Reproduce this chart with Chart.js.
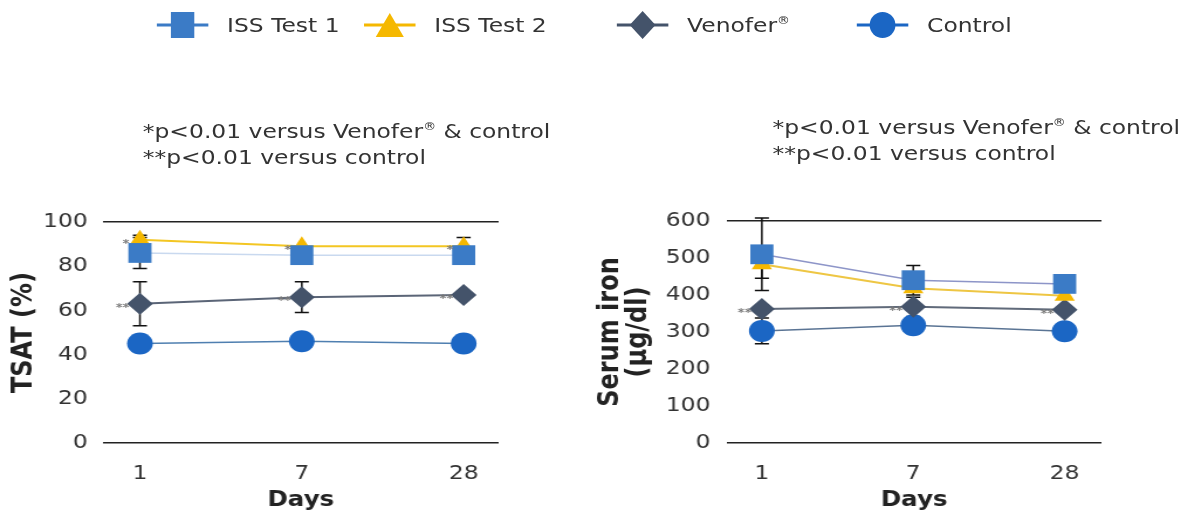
<!DOCTYPE html>
<html>
<head>
<meta charset="utf-8">
<script src="https://cdn.jsdelivr.net/npm/chart.js@4.4.1/dist/chart.umd.min.js"></script>
<style>
  body { margin: 0; background: #fff; overflow: hidden; }
  #stage { position: absolute; left: 0; top: 0; width: 1026px; height: 517px;
           transform: scaleX(1.1705); transform-origin: 0 0; }
  #stage canvas { position: absolute; }
  .note, .legtext { position: absolute; font-family: "DejaVu Sans", Verdana, sans-serif;
                    font-size: 20px; color: #333; white-space: nowrap; }
  .note { line-height: 26px; }
  .legtext { line-height: 24px; top: 13px; }
  sup { font-size: 0.55em; vertical-align: 0.7em; line-height: 0; }
  .legsvg { position: absolute; top: 8px; }
</style>
</head>
<body>
<div id="stage">
  <div class="note" style="left:122px;top:118px">*p&lt;0.01 versus Venofer<sup>®</sup> &amp; control<br>**p&lt;0.01 versus control</div>
  <div class="note" style="left:660px;top:114px">*p&lt;0.01 versus Venofer<sup>®</sup> &amp; control<br>**p&lt;0.01 versus control</div>
  <canvas id="tsatChart" width="440" height="322" style="left:0;top:195px"></canvas>
  <canvas id="ironChart" width="450" height="322" style="left:505px;top:195px"></canvas>
</div>
<script>
// data
const days = ['1', '7', '28'];
const seriesNames = ['ISS Test 1', 'ISS Test 2', 'Venofer®', 'Control'];

const tsatTest1 = [86, 85, 85];
const tsatTest2 = [92, 89, 89];
const tsatVenofer = [63, 66, 67];
const tsatControl = [45, 46, 45];
const tsatErrTest1 = [7, 0, 0];
const tsatErrTest2 = [2, 0, 4];
const tsatErrVenofer = [10, 7, 1];
const tsatErrControl = [0, 0, 0];

const ironTest1 = [510, 440, 430];
const ironTest2 = [483, 418, 398];
const ironVenofer = [362, 368, 360];
const ironControl = [303, 318, 302];
const ironErrTest1 = [98, 40, 0];
const ironErrTest2 = [38, 0, 0];
const ironErrVenofer = [0, 26, 0];
const ironErrControl = [35, 0, 0];

const starsTest2 = ['*', '*', '*'];
const starsVenofer = ['**', '**', '**'];

const markerColors = ['#3b7bc6', '#f5b800', '#44536a', '#1b66c4'];
const markerStyles = ['rect', 'triangle', 'rectRot', 'circle'];
const markerRadii = [14, 10, 11, 11];

// legend (html)
const legendX = [156, 333, 549, 754];
const stage = document.getElementById('stage');
seriesNames.forEach((name, k) => {
  const c = markerColors[k];
  let mark = '';
  if (k === 0) mark = `<rect x="20" y="4" width="20" height="26" fill="${c}"/>`;
  if (k === 1) mark = `<polygon points="30,5 42,29 18,29" fill="${c}"/>`;
  if (k === 2) mark = `<polygon points="30,3 41,17 30,31 19,17" fill="${c}"/>`;
  if (k === 3) mark = `<ellipse cx="30" cy="17" rx="11" ry="13" fill="${c}"/>`;
  const svg = `<svg class="legsvg" width="60" height="34" style="left:${legendX[k] - 30}px">` +
    `<line x1="8" y1="17" x2="52" y2="17" stroke="${c}" stroke-width="3"/>${mark}</svg>`;
  const label = name.replace('®', '<sup>®</sup>');
  stage.insertAdjacentHTML('beforeend', svg +
    `<div class="legtext" style="left:${legendX[k] + 38}px">${label}</div>`);
});

const errorBars = {
  id: 'errorBars',
  beforeDatasetsDraw(chart) {
    const ctx = chart.ctx;
    const yScale = chart.scales.y;
    ctx.save();
    ctx.strokeStyle = '#111';
    ctx.lineWidth = 1.5;
    chart.data.datasets.forEach((ds, i) => {
      chart.getDatasetMeta(i).data.forEach((pt, j) => {
        const e = ds.errors[j];
        if (!e) return;
        const v = ds.data[j].y;
        const top = yScale.getPixelForValue(v + e);
        const bot = yScale.getPixelForValue(v - e);
        ctx.beginPath();
        ctx.moveTo(pt.x, top); ctx.lineTo(pt.x, bot);
        ctx.moveTo(pt.x - 6, top); ctx.lineTo(pt.x + 6, top);
        ctx.moveTo(pt.x - 6, bot); ctx.lineTo(pt.x + 6, bot);
        ctx.stroke();
      });
    });
    ctx.restore();
  },
  afterDatasetsDraw(chart) {
    const ctx = chart.ctx;
    ctx.save();
    ctx.fillStyle = '#7a7a7a';
    ctx.font = 'bold 11px "DejaVu Sans"';
    ctx.textAlign = 'right';
    ctx.textBaseline = 'middle';
    chart.data.datasets.forEach((ds, i) => {
      if (!ds.stars) return;
      chart.getDatasetMeta(i).data.forEach((pt, j) => {
        ctx.fillText(ds.stars[j], pt.x - 9, pt.y + 4);
      });
    });
    ctx.restore();
  }
};

function buildChart(id, values, errors, stars, cfg) {
  const datasets = values.map((vals, k) => ({
    label: seriesNames[k],
    data: vals.map((v, i) => ({ x: i, y: v })),
    errors: errors[k],
    stars: stars[k],
    borderColor: cfg.lineColors[k],
    borderWidth: cfg.lineWidths[k],
    backgroundColor: markerColors[k],
    pointBackgroundColor: markerColors[k],
    pointBorderColor: markerColors[k],
    pointBorderWidth: 0,
    pointStyle: markerStyles[k],
    pointRadius: markerRadii[k],
    tension: 0
  }));

  return new Chart(document.getElementById(id), {
    type: 'line',
    data: { datasets: datasets },
    plugins: [errorBars],
    options: {
      responsive: false,
      animation: false,
      layout: { padding: cfg.padding },
      plugins: { legend: { display: false }, tooltip: { enabled: false } },
      scales: {
        x: {
          type: 'linear',
          min: cfg.xMin,
          max: cfg.xMax,
          afterBuildTicks: axis => { axis.ticks = days.map((d, i) => ({ value: i })); },
          afterFit: scale => { scale.height = 74; },
          grid: { display: false },
          border: { display: false },
          ticks: {
            callback: v => days[v],
            font: { family: 'DejaVu Sans', size: 20 },
            color: '#333',
            padding: 11,
            maxRotation: 0
          },
          title: {
            display: true,
            text: 'Days',
            font: { family: 'DejaVu Sans', size: 21, weight: 'bold' },
            color: '#222',
            padding: { top: 0, bottom: 4 }
          }
        },
        y: {
          min: 0,
          max: cfg.yMax,
          afterFit: scale => { scale.width = cfg.yWidth; },
          grid: {
            drawTicks: false,
            lineWidth: 1.5,
            color: c => (c.tick.value === 0 || c.tick.value === cfg.yMax) ? '#222' : 'rgba(0,0,0,0)'
          },
          border: { display: false },
          ticks: {
            stepSize: cfg.yStep,
            font: { family: 'DejaVu Sans', size: 20 },
            color: '#333',
            padding: cfg.yPad
          },
          title: {
            display: true,
            text: cfg.yTitle,
            font: { family: 'DejaVu Sans', size: 24, weight: 'bold', lineHeight: 1.0 },
            color: '#222',
            padding: 0
          }
        }
      }
    }
  });
}

buildChart('tsatChart',
  [tsatTest1, tsatTest2, tsatVenofer, tsatControl],
  [tsatErrTest1, tsatErrTest2, tsatErrVenofer, tsatErrControl],
  [null, starsTest2, starsVenofer, null],
  {
    lineColors: ['#c9d9ef', '#f3c623', '#5b6577', '#4f7fb0'],
    lineWidths: [1.5, 2, 2, 1.5],
    padding: { left: 9, right: 13, top: 27, bottom: 0 },
    xMin: -0.228, xMax: 2.216,
    yMax: 100, yStep: 20, yWidth: 79, yPad: 13,
    yTitle: 'TSAT (%)'
  });

buildChart('ironChart',
  [ironTest1, ironTest2, ironVenofer, ironControl],
  [ironErrTest1, ironErrTest2, ironErrVenofer, ironErrControl],
  [null, null, starsVenofer, null],
  {
    lineColors: ['#8d95c8', '#eec643', '#606a7a', '#5a7494'],
    lineWidths: [1.5, 2, 2, 1.5],
    padding: { left: 5, right: 13, top: 23, bottom: 0 },
    xMin: -0.231, xMax: 2.243,
    yMax: 600, yStep: 100, yWidth: 111, yPad: 14,
    yTitle: ['Serum iron', '(µg/dl)']
  });
</script>
</body>
</html>
